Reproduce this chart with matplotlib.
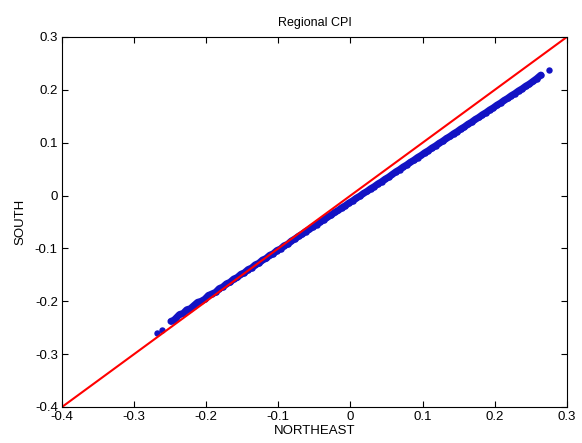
import matplotlib
matplotlib.use("Agg")
import matplotlib.pyplot as plt

northeast = [-0.268, -0.262, -0.249, -0.245,
             -0.242, -0.237, -0.232, -0.227, -0.222, -0.217, -0.212, -0.207, -0.202, -0.197,
             -0.192, -0.187, -0.182, -0.177, -0.172, -0.167, -0.162, -0.157, -0.152, -0.147,
             -0.142, -0.137, -0.132, -0.127, -0.122, -0.117, -0.112, -0.107, -0.102, -0.097,
             -0.092, -0.087, -0.082, -0.077, -0.072, -0.067, -0.062, -0.057, -0.052, -0.047,
             -0.042, -0.037, -0.032, -0.027, -0.022, -0.017, -0.012, -0.007, -0.002, 0.003,
             0.008, 0.013, 0.018, 0.023, 0.028, 0.033, 0.038, 0.043, 0.048, 0.053,
             0.058, 0.063, 0.068, 0.073, 0.078, 0.083, 0.088, 0.093, 0.098, 0.103,
             0.108, 0.113, 0.118, 0.123, 0.128, 0.133, 0.138, 0.143, 0.148, 0.153,
             0.158, 0.163, 0.168, 0.173, 0.178, 0.183, 0.188, 0.193, 0.198, 0.203,
             0.208, 0.213, 0.218, 0.223, 0.228, 0.233, 0.238, 0.243, 0.248, 0.253,
             0.258, 0.264, 0.275]
south = [-0.260, -0.255, -0.238, -0.236,
         -0.232, -0.225, -0.223, -0.216, -0.214, -0.208, -0.202, -0.200, -0.196, -0.189,
         -0.186, -0.183, -0.176, -0.173, -0.167, -0.164, -0.158, -0.155, -0.149, -0.146,
         -0.140, -0.137, -0.131, -0.128, -0.122, -0.119, -0.113, -0.110, -0.104, -0.101,
         -0.095, -0.092, -0.086, -0.082, -0.077, -0.073, -0.068, -0.064, -0.059, -0.055,
         -0.050, -0.046, -0.041, -0.037, -0.032, -0.028, -0.023, -0.019, -0.014, -0.010,
         -0.005, -0.001, 0.004, 0.008, 0.013, 0.017, 0.022, 0.026, 0.031, 0.035,
         0.040, 0.045, 0.049, 0.054, 0.058, 0.063, 0.067, 0.072, 0.076, 0.081,
         0.085, 0.090, 0.094, 0.099, 0.103, 0.108, 0.112, 0.117, 0.121, 0.126,
         0.130, 0.135, 0.139, 0.144, 0.148, 0.153, 0.157, 0.162, 0.166, 0.171,
         0.175, 0.180, 0.184, 0.189, 0.193, 0.198, 0.202, 0.207, 0.211, 0.216,
         0.221, 0.228, 0.238]

ref_line = [-0.4, 0.3]
xticks = [-0.4, -0.3, -0.2, -0.1, 0, 0.1, 0.2, 0.3]
yticks = [-0.4, -0.3, -0.2, -0.1, 0, 0.1, 0.2, 0.3]
tick_labels = ['-0.4', '-0.3', '-0.2', '-0.1', '0', '0.1', '0.2', '0.3']

plt.rcParams['font.family'] = ['Liberation Sans', 'DejaVu Sans']

fig = plt.figure(figsize=(5.82, 4.43), dpi=100)
ax = fig.add_axes([0.1065, 0.0813, 0.8675, 0.8352])

blue = '#1212c4'
# dense band of points (drawn as connected thick trace so it reads as a solid band)
ax.plot(northeast[2:-1], south[2:-1], linestyle='-', linewidth=5.0,
        solid_capstyle='round', color=blue)
ax.plot(northeast, south, linestyle='none', marker='o', markersize=4.6,
        color=blue, markeredgewidth=0)
ax.plot(ref_line, ref_line, color='#ff0000', linewidth=1.5)

ax.set_xlim(-0.4, 0.3)
ax.set_ylim(-0.4, 0.3)
ax.set_xticks(xticks)
ax.set_xticklabels(tick_labels)
ax.set_yticks(yticks)
ax.set_yticklabels(tick_labels)
ax.tick_params(direction='in', top=True, right=True, length=4, labelsize=9.5,
               width=0.8, pad=3)
for s in ax.spines.values():
    s.set_linewidth(0.8)

ax.set_title('Regional CPI', fontsize=9, pad=8)
ax.set_xlabel('NORTHEAST', fontsize=9.5, labelpad=1)
ax.set_ylabel('SOUTH', fontsize=9.5, labelpad=6)

fig.savefig('out.png', dpi=100)
